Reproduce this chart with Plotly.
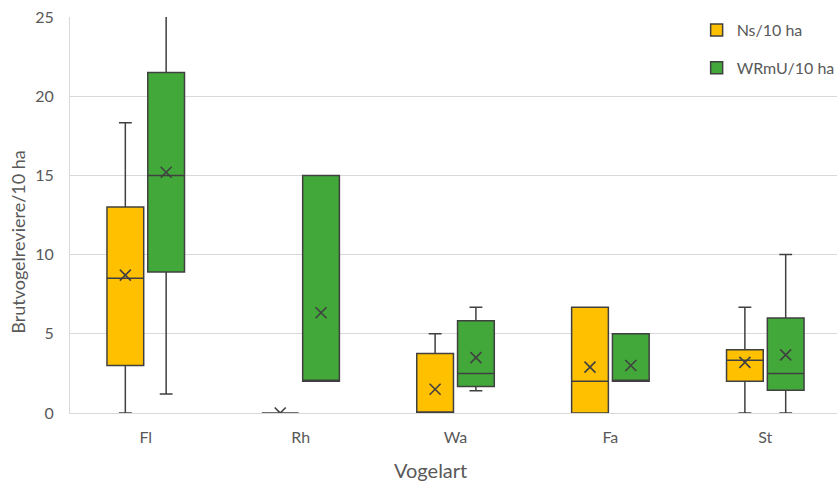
import plotly.graph_objects as go

categories = ["Fl", "Rh", "Wa", "Fa", "St"]

# Ns/10 ha
ns_q1 = [3.0, 0.0, 0.0, 0.0, 2.0]
ns_median = [8.5, 0.0, 0.0, 2.0, 3.33]
ns_q3 = [13.0, 0.0, 3.75, 6.67, 4.0]
ns_low = [0.0, 0.0, 0.0, 0.0, 0.0]
ns_high = [18.33, 0.0, 5.0, 6.67, 6.67]
ns_mean = [8.7, 0.0, 1.5, 2.9, 3.2]

# WRmU/10 ha
wr_q1 = [8.9, 2.0, 1.67, 2.0, 1.43]
wr_median = [15.0, 2.0, 2.5, 2.0, 2.5]
wr_q3 = [21.5, 15.0, 5.83, 5.0, 6.0]
wr_low = [1.2, 2.0, 1.4, 2.0, 0.0]
wr_high = [26.7, 15.0, 6.67, 5.0, 10.0]
wr_mean = [15.2, 6.33, 3.5, 3.0, 3.67]

FONT = "Lato, 'Open Sans', sans-serif"
GRAY = "#595959"
EDGE = "#404040"

fig = go.Figure()
series = [
    ("Ns/10 ha", "#FFC000", ns_q1, ns_median, ns_q3, ns_low, ns_high, ns_mean, "a"),
    ("WRmU/10 ha", "#42A83A", wr_q1, wr_median, wr_q3, wr_low, wr_high, wr_mean, "b"),
]
for name, col, q1, med, q3, lo, hi, mean, og in series:
    fig.add_trace(go.Box(
        name=name, x=categories, q1=q1, median=med, q3=q3,
        lowerfence=lo, upperfence=hi,
        fillcolor=col, line=dict(color=EDGE, width=1.5),
        whiskerwidth=0.35, offsetgroup=og, boxpoints=False,
        legendgroup=og, hoverinfo="skip",
    ))
for name, col, q1, med, q3, lo, hi, mean, og in series:
    fig.add_trace(go.Scatter(
        x=categories, y=mean, mode="markers", offsetgroup=og,
        marker=dict(symbol="x-thin", size=11, line=dict(color=EDGE, width=1.6), color=EDGE),
        showlegend=False, hoverinfo="skip",
    ))

fig.update_layout(
    width=840, height=484,
    margin=dict(l=70, r=0, t=17, b=71),
    paper_bgcolor="white", plot_bgcolor="white",
    boxmode="group", boxgap=0.473, boxgroupgap=0.1,
    scattermode="group", scattergap=0.473,
    font=dict(family=FONT, color=GRAY, size=14),
    showlegend=True,
    legend=dict(x=0.817, y=1.01, xanchor="left", yanchor="top",
                font=dict(size=16, color=GRAY), tracegroupgap=14,
                bgcolor="rgba(0,0,0,0)", itemwidth=30),
    annotations=[
        dict(text="Vogelart", xref="paper", yref="paper", x=0.47, y=-0.145,
             xanchor="center", yanchor="middle", showarrow=False,
             font=dict(size=20, color=GRAY)),
        dict(text="Brutvogelreviere/10 ha", xref="paper", yref="paper", x=-0.068, y=0.432,
             xanchor="center", yanchor="middle", showarrow=False, textangle=-90,
             font=dict(size=18, color=GRAY)),
    ],
)
fig.update_xaxes(
    range=[-0.489, 4.463], showgrid=False, showline=True, linecolor="#D9D9D9",
    linewidth=1, ticks="", tickfont=dict(size=16, color=GRAY),
    ticklabelstandoff=10, automargin=False,
)
fig.update_yaxes(
    range=[0, 25], dtick=5, showgrid=True, gridcolor="#D9D9D9", gridwidth=1,
    showline=True, linecolor="#D9D9D9", linewidth=1, zeroline=False,
    ticks="", tickfont=dict(size=16, color=GRAY), ticklabelstandoff=12,
    automargin=False,
)

fig.write_html("out.html", config={"displayModeBar": False},
               post_script="document.body.style.margin='0';")
